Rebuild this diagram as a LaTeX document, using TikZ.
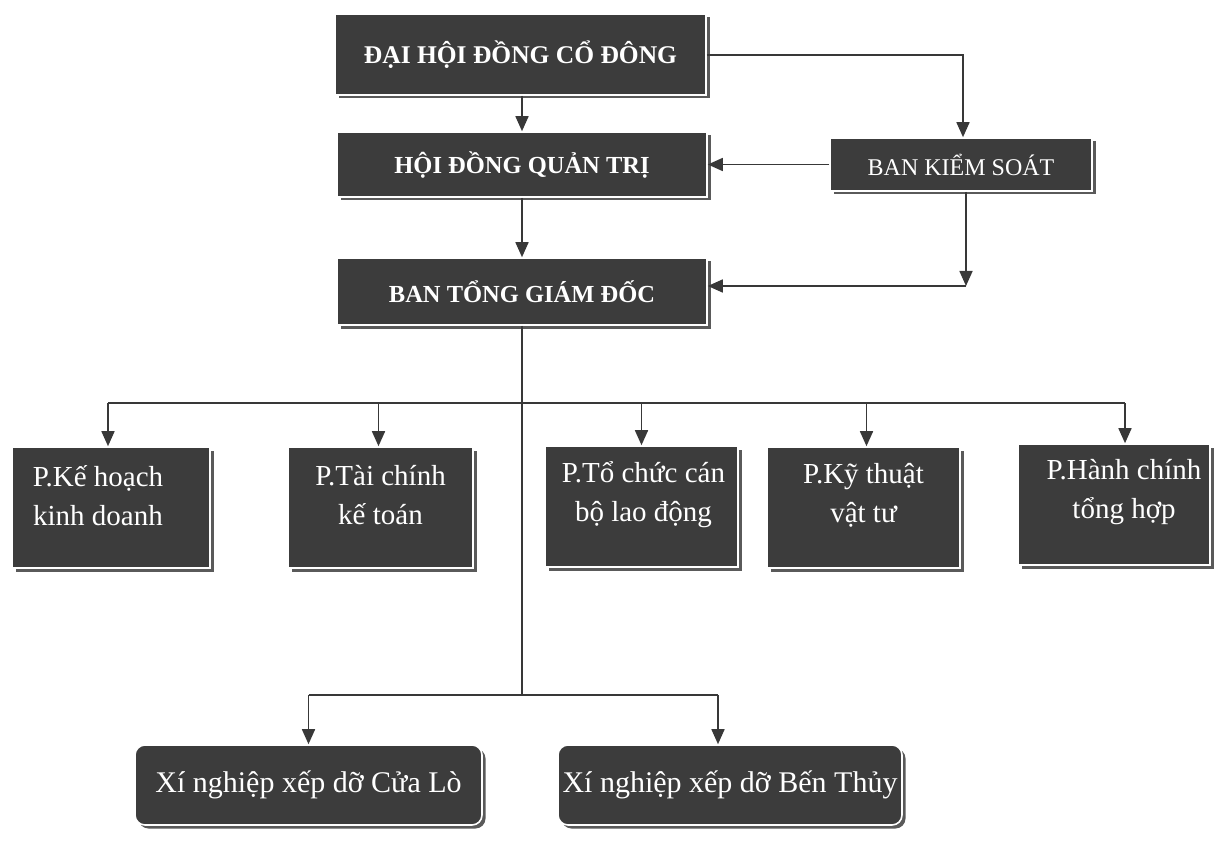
\documentclass[tikz,border=0pt]{standalone}
\usepackage{fontspec}
\setmainfont{Liberation Serif}
\usetikzlibrary{arrows.meta,shadows}
\definecolor{boxfill}{HTML}{3C3C3C}
\definecolor{linec}{HTML}{383838}
\definecolor{shadowc}{HTML}{5A5A5A}
\begin{document}
\begin{tikzpicture}[x=1pt,y=-1pt,
  box/.style={draw=white, line width=1.6pt, fill=boxfill, text=white, inner sep=0pt,
    drop shadow={shadow xshift=3.5pt, shadow yshift=-3.5pt, fill=shadowc, opacity=1}},
  topbox/.style={box, font=\bfseries\fontsize{24.5}{28}\selectfont},
  dept/.style={box, minimum height=121pt},
  depttext/.style={text=white, inner sep=0pt, align=center, font=\fontsize{29}{39}\selectfont},
  unit/.style={box, rounded corners=10pt, minimum height=80pt, font=\fontsize{30}{34}\selectfont},
  arr/.style={draw=linec, line width=1.6pt, -{Triangle[width=13pt,length=15pt]}},
  ln/.style={draw=linec, line width=1.6pt}]
\useasboundingbox[fill=white] (0,0) rectangle (1226,850);

% top levels
\node[topbox, minimum width=371pt, minimum height=81pt, font=\bfseries\fontsize{25.5}{28}\selectfont] (dhd) at (520.5,54.5) {ĐẠI HỘI ĐỒNG CỔ ĐÔNG};
\node[topbox, minimum width=370pt, minimum height=65pt] (hdqt) at (522,164.5) {HỘI ĐỒNG QUẢN TRỊ};
\node[topbox, minimum width=370pt, minimum height=67pt] (btgd) at (522,291.5) {BAN TỔNG GIÁM ĐỐC};
\node[box, minimum width=262pt, minimum height=53pt, font=\fontsize{24}{28}\selectfont] (bks) at (961,164.5) {BAN KIỂM SOÁT};

% departments
\node[dept, minimum width=198pt] (d1) at (111,507.5) {};
\node[dept, minimum width=185pt] (d2) at (380.5,507.5) {};
\node[dept, minimum width=193pt] (d3) at (641.5,506.5) {};
\node[dept, minimum width=193pt] (d4) at (863.5,507.5) {};
\node[dept, minimum width=192pt] (d5) at (1114,504.5) {};
\node[depttext] (t1) at ([xshift=-13pt,yshift=12pt]d1.center) {P.Kế hoạch\\kinh doanh};
\node[depttext] (t2) at ([yshift=12pt]d2.center) {P.Tài chính\\kế toán};
\node[depttext] (t3) at ([xshift=2pt,yshift=12pt]d3.center) {P.Tổ chức cán\\bộ lao động};
\node[depttext] (t4) at ([yshift=12pt]d4.center) {P.Kỹ thuật\\vật tư};
\node[depttext] (t5) at ([xshift=10pt,yshift=12pt]d5.center) {P.Hành chính\\tổng hợp};

% units
\node[unit, minimum width=347pt] (xn1) at (308.5,785) {Xí nghiệp xếp dỡ Cửa Lò};
\node[unit, minimum width=344pt] (xn2) at (730,785) {Xí nghiệp xếp dỡ Bến Thủy};

% connectors
\coordinate (tr) at (963,55);
\draw[arr] (dhd.east |- tr) -- (tr) -- (tr |- bks.north);
\draw[arr] (dhd.south -| hdqt.north) -- (hdqt.north);
\draw[arr] (hdqt.south) -- (btgd.north);
\draw[arr] (bks.west) -- (hdqt.east);
\coordinate (bc) at (966,286);
\draw[arr] (bks.south -| bc) -- (bc);
\draw[arr] (bc) -- (btgd.east |- bc);

\coordinate (j1) at (522,403);
\coordinate (j2) at (522,695);
\draw[ln] (btgd.south) -- (j2);
\draw[ln] ([xshift=-3pt]d1.north |- j1) -- ([xshift=11pt]d5.north |- j1);
\draw[arr] ([xshift=-3pt]d1.north |- j1) -- ([xshift=-3pt]d1.north);
\draw[arr] ([xshift=-2pt]d2.north |- j1) -- ([xshift=-2pt]d2.north);
\draw[arr] (d3.north |- j1) -- (d3.north);
\draw[arr] ([xshift=3pt]d4.north |- j1) -- ([xshift=3pt]d4.north);
\draw[arr] ([xshift=11pt]d5.north |- j1) -- ([xshift=11pt]d5.north);

\draw[ln] (xn1.north |- j2) -- ([xshift=-12pt]xn2.north |- j2);
\draw[arr] (xn1.north |- j2) -- (xn1.north);
\draw[arr] ([xshift=-12pt]xn2.north |- j2) -- ([xshift=-12pt]xn2.north);
\end{tikzpicture}
\end{document}
